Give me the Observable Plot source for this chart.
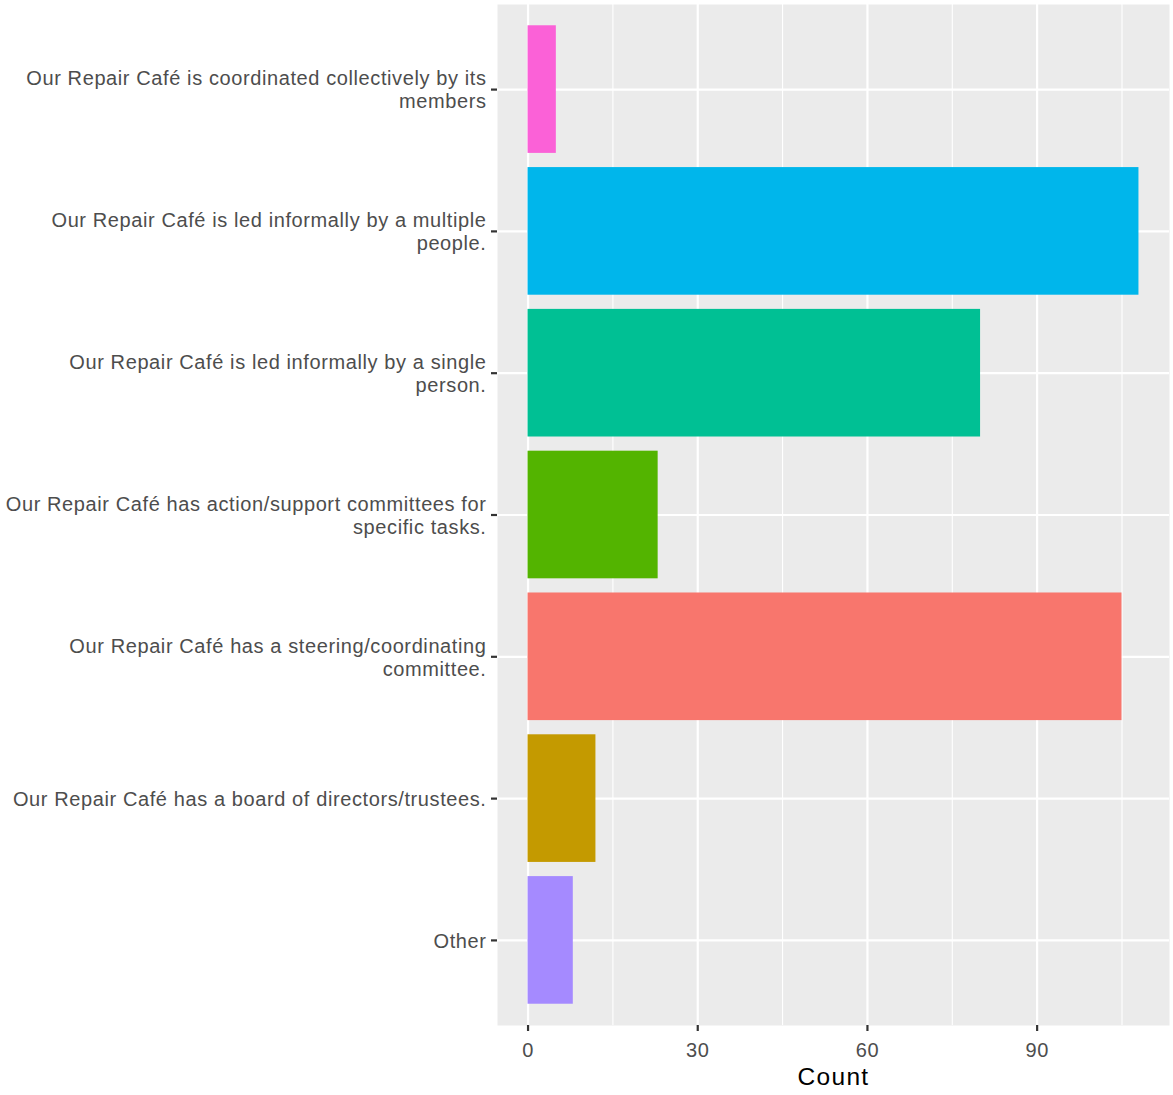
<!DOCTYPE html>
<html>
<head>
<meta charset="utf-8">
<script src="https://cdn.jsdelivr.net/npm/d3@7"></script>
<script src="https://cdn.jsdelivr.net/npm/@observablehq/plot@0.6"></script>
<style>
  body { margin: 0; background: #fff; }
  svg { font-family: "Liberation Sans", Arial, sans-serif; }
  g[aria-label="y-axis tick label"] text, g[aria-label="x-axis tick label"] text { letter-spacing: 0.6px; }
  g[aria-label="x-axis label"] text { letter-spacing: 1.3px; }
</style>
</head>
<body>
<div id="chart"></div>
<script>
const categories = [
  "Our Repair Café is coordinated collectively by its members",
  "Our Repair Café is led informally by a multiple people.",
  "Our Repair Café is led informally by a single person.",
  "Our Repair Café has action/support committees for specific tasks.",
  "Our Repair Café has a steering/coordinating committee.",
  "Our Repair Café has a board of directors/trustees.",
  "Other"
];
const tickLabels = [
  "Our Repair Café is coordinated collectively by its\nmembers",
  "Our Repair Café is led informally by a multiple\npeople.",
  "Our Repair Café is led informally by a single\nperson.",
  "Our Repair Café has action/support committees for\nspecific tasks.",
  "Our Repair Café has a steering/coordinating\ncommittee.",
  "Our Repair Café has a board of directors/trustees.",
  "Other"
];
const counts = [5, 108, 80, 23, 105, 12, 8];
const colors = ["#FB61D7", "#00B6EB", "#00C094", "#53B400", "#F8766D", "#C49A00", "#A58AFF"];
const xMajor = [0, 30, 60, 90];
const xMinor = [15, 45, 75, 105];

const data = categories.map((c, i) => ({category: c, count: counts[i]}));
const labelOf = new Map(categories.map((c, i) => [c, tickLabels[i]]));

const chart = Plot.plot({
  width: 1173,
  height: 1095,
  marginLeft: 497,
  marginRight: 4,
  marginTop: 4,
  marginBottom: 70,
  style: {fontFamily: "Liberation Sans, Arial, sans-serif", background: "white"},
  x: {domain: [-5.4, 113.4]},
  y: {domain: categories, paddingInner: 0.1, paddingOuter: 0.15, round: false},
  color: {domain: categories, range: colors},
  marks: [
    Plot.frame({fill: "#EBEBEB", stroke: null}),
    Plot.gridX(xMinor, {stroke: "white", strokeOpacity: 1, strokeWidth: 1.1}),
    Plot.gridX(xMajor, {stroke: "white", strokeOpacity: 1, strokeWidth: 2.2}),
    Plot.gridY({stroke: "white", strokeOpacity: 1, strokeWidth: 2.2}),
    Plot.barX(data, {x: "count", y: "category", fill: "category"}),
    Plot.axisY({
      tickSize: 6, tickPadding: 5, stroke: "#333333", strokeWidth: 2.2,
      fill: "#4D4D4D", fontSize: 20, lineHeight: 1.15,
      tickFormat: d => labelOf.get(d), label: null
    }),
    Plot.axisX(xMajor, {
      tickSize: 6, tickPadding: 11, stroke: "#333333", strokeWidth: 2.2,
      fill: "#4D4D4D", fontSize: 20, label: null
    }),
    Plot.axisX([], {
      tickSize: 0, label: "Count", labelAnchor: "center", labelArrow: "none",
      labelOffset: 59, fill: "black", fontSize: 24.5
    })
  ]
});
document.getElementById("chart").appendChild(chart);
</script>
</body>
</html>
